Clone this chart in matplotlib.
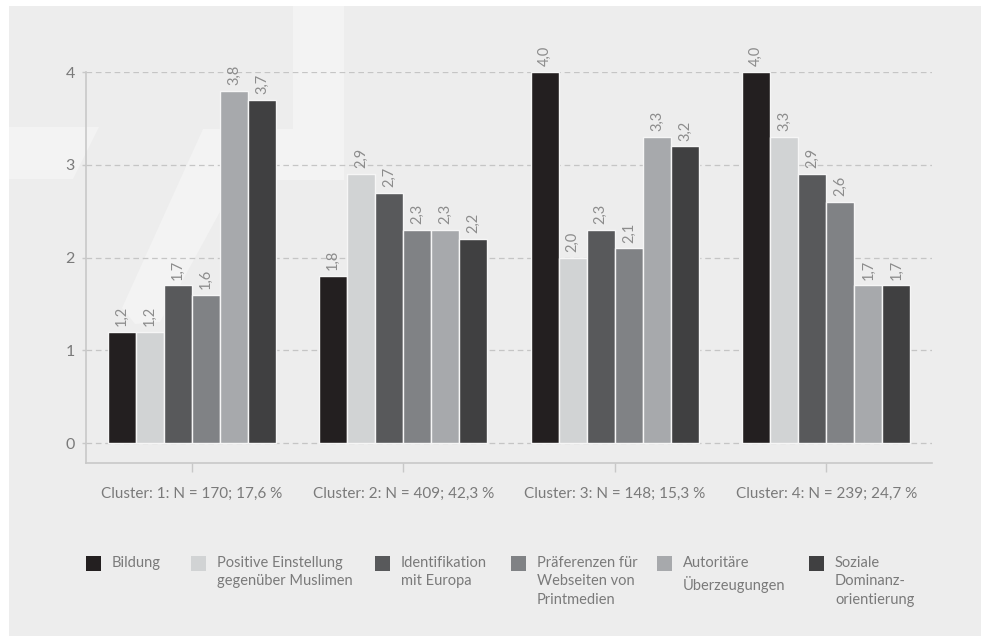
import matplotlib.pyplot as plt
import numpy as np
from matplotlib.patches import Rectangle, Polygon

# data
clusters = ['Cluster: 1: N = 170; 17,6 %', 'Cluster: 2: N = 409; 42,3 %',
            'Cluster: 3: N = 148; 15,3 %', 'Cluster: 4: N = 239; 24,7 %']
series = ['Bildung', 'Positive Einstellung\ngegenüber Muslimen', 'Identifikation\nmit Europa',
          'Präferenzen für\nWebseiten von\nPrintmedien', 'Autoritäre\nÜberzeugungen',
          'Soziale\nDominanz-\norientierung']
bildung = [1.2, 1.8, 4.0, 4.0]
einstellung = [1.2, 2.9, 2.0, 3.3]
europa = [1.7, 2.7, 2.3, 2.9]
printmedien = [1.6, 2.3, 2.1, 2.6]
autoritaer = [3.8, 2.3, 3.3, 1.7]
dominanz = [3.7, 2.2, 3.2, 1.7]
values = [bildung, einstellung, europa, printmedien, autoritaer, dominanz]
colors = ['#231f20', '#d1d3d4', '#58595b', '#808285', '#a7a9ac', '#404041']

W, H = 981, 636
plt.rcParams['font.family'] = ['Lato', 'DejaVu Sans']
txt = '#7a7a7a'

fig = plt.figure(figsize=(W / 100, H / 100), dpi=100)
fig.patch.set_facecolor('white')


def px(x, y):
    return (x / W, 1 - y / H)


# grey panel and light watermark
fig.patches.append(Rectangle(px(9, 636), (W - 9) / W, 630 / H, transform=fig.transFigure,
                             facecolor='#ededed', edgecolor='none', zorder=0))
shapes = [
    [(9, 127), (99, 127), (73, 179), (9, 179)],
    [(293, 6), (344, 6), (344, 180), (203, 180), (203, 129), (293, 129)],
    [(203, 129), (265, 129), (160, 322), (135, 324), (122, 308)],
]
for s in shapes:
    fig.patches.append(Polygon([px(*p) for p in s], closed=True, transform=fig.transFigure,
                               facecolor='#f3f3f3', edgecolor='none', zorder=0))

ax = fig.add_axes([86 / W, (H - 463) / H, (932 - 86) / W, (463 - 72) / H])
ax.set_facecolor('none')
ax.set_zorder(2)

x = np.arange(len(clusters))
step = 0.1327
for i, (vals, c) in enumerate(zip(values, colors)):
    pos = x + (i - 2.5) * step
    ax.bar(pos, vals, width=step, color=c, edgecolor='#f6f6f6', linewidth=1.0, zorder=3)
    for xp, v in zip(pos, vals):
        ax.text(xp, v + 0.06, f'{v:.1f}'.replace('.', ','), rotation=90, ha='center',
                va='bottom', fontsize=10.5, color='#8c8c8c')

ax.set_xlim(-0.5, 3.5)
ax.set_ylim(-0.2156, 4)
ax.set_yticks([0, 1, 2, 3, 4])
ax.set_xticks(x)
ax.set_xticklabels(clusters, fontsize=11, color=txt)
ax.tick_params(axis='x', length=6.5, width=1, color='#c8c8c8', pad=11)
ax.tick_params(axis='y', length=3, width=1, color='#c8c8c8', pad=5, labelsize=11.5,
               labelcolor=txt)
ax.yaxis.grid(True, color='#c5c5c5', linestyle=(0, (4.5, 3)), linewidth=0.9, zorder=1)
for sp in ['top', 'right']:
    ax.spines[sp].set_visible(False)
for sp in ['left', 'bottom']:
    ax.spines[sp].set_color('#c8c8c8')
    ax.spines[sp].set_linewidth(1.2)
ax.spines['left'].set_bounds(-0.2156, 4)

# legend placed by hand like the original
leg_x = [86, 191, 375, 511, 657, 809]
for lx, name, c in zip(leg_x, series, colors):
    fig.patches.append(Rectangle(px(lx, 571), 15 / W, 15 / H, transform=fig.transFigure,
                                 facecolor=c, edgecolor='none', zorder=2))
    fig.text(*px(lx + 26, 556), name, ha='left', va='top', fontsize=10.5, color=txt,
             linespacing=1.4)

fig.savefig('out.png', dpi=100, facecolor=fig.get_facecolor())
